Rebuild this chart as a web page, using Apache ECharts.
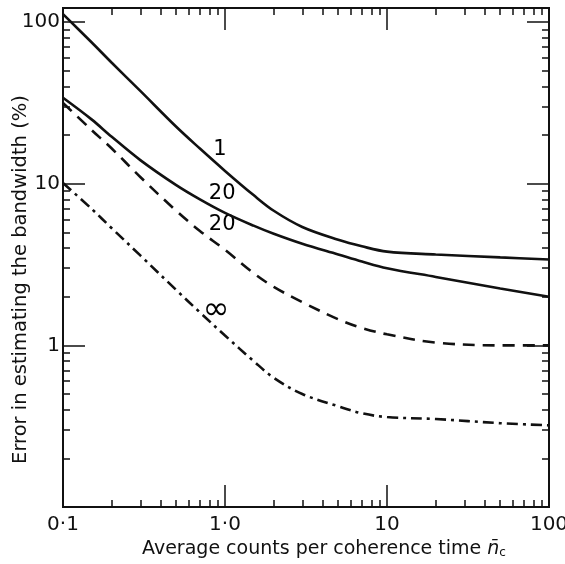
<!DOCTYPE html>
<html>
<head>
<meta charset="utf-8">
<script src="https://cdn.jsdelivr.net/npm/echarts@6/dist/echarts.min.js"></script>
<style>
  html, body { margin: 0; padding: 0; background: #fff; }
  #chart { width: 565px; height: 564px; }
</style>
</head>
<body>
<div id="chart"></div>
<script>
// counts per coherence time (x) and error in % (y)
const xs = [0.1, 0.15, 0.2, 0.3, 0.5, 0.7, 1, 1.5, 2, 3, 5, 7, 10, 20, 50, 100];
const errSolid1 = [112, 75, 56, 37.5, 22.5, 16.5, 12, 8.5, 6.8, 5.4, 4.5, 4.1, 3.8, 3.65, 3.5, 3.4];
const errSolid20 = [34, 25, 19.5, 14, 9.8, 8, 6.6, 5.5, 4.9, 4.25, 3.65, 3.3, 3.0, 2.65, 2.25, 2.0];
const errDashed20 = [31.6, 21.5, 16.5, 11, 6.8, 5.1, 3.9, 2.8, 2.3, 1.85, 1.45, 1.28, 1.17, 1.04, 1.0, 1.0];
const errInfinity = [10.1, 7, 5.3, 3.6, 2.2, 1.6, 1.15, 0.8, 0.63, 0.5, 0.42, 0.38, 0.36, 0.35, 0.33, 0.32];

const xTickValues = [0.1, 1, 10, 100];
const xTickLabels = ['0·1', '1·0', '10', '100'];
const yTickValues = [1, 10, 100];
const yTickLabels = ['1', '10', '100'];

// curve labels: [text, x, y, font size]
const curveLabels = [
    ['1', 0.93, 16.3, 21],
    ['20', 0.96, 8.75, 21],
    ['20', 0.96, 5.6, 21],
    ['∞', 0.88, 1.63, 32]
];

const lg = Math.log10;
const X_MIN = -1, X_MAX = 2;
const Y_MIN = -1, Y_MAX = 2.087;

// minor ticks 2..9 in every decade
const minorTicks = (lo, hi) => {
    const out = [];
    for (let d = lo; d < hi; d++) {
        for (let k = 2; k <= 9; k++) out.push(d + lg(k));
    }
    return out;
};
const xMajor = xTickValues.map(lg);
const yMajor = [-1, 0, 1, 2];
const xMinor = minorTicks(-1, 2);
const yMinor = minorTicks(-1, 2);

const font = '"DejaVu Sans", sans-serif';

const makeAxis = (position, isX, major, withLabels) => {
    const ax = {
        type: 'value',
        position: position,
        min: isX ? X_MIN : Y_MIN,
        max: isX ? X_MAX : Y_MAX,
        splitLine: { show: false },
        axisLine: { show: true, onZero: false, lineStyle: { color: '#111', width: 2 } },
        axisTick: {
            show: true,
            inside: true,
            length: major ? 22 : 7,
            lineStyle: { color: '#111', width: 1.5 },
            customValues: major ? (isX ? xMajor : yMajor) : (isX ? xMinor : yMinor)
        },
        axisLabel: { show: false }
    };
    if (withLabels) {
        const vals = isX ? xTickValues : yTickValues;
        const labs = isX ? xTickLabels : yTickLabels;
        ax.axisLabel = {
            show: true,
            customValues: vals.map(lg),
            formatter: (v) => {
                const i = vals.findIndex(t => Math.abs(lg(t) - v) < 1e-6);
                return i >= 0 ? labs[i] : '';
            },
            color: '#111',
            fontFamily: font,
            fontSize: 20,
            margin: isX ? 8 : 3
        };
    }
    return ax;
};

const xAxes = [
    makeAxis('bottom', true, true, true),
    makeAxis('bottom', true, false, false),
    makeAxis('top', true, true, false),
    makeAxis('top', true, false, false)
];
xAxes[0].name = 'Average counts per coherence time {n|n\u0304}{c|c}';
xAxes[0].nameLocation = 'middle';
xAxes[0].nameGap = 32;
xAxes[0].nameMoveOverlap = false;
xAxes[0].nameTextStyle = {
    color: '#111', fontFamily: font, fontSize: 19,
    padding: [0, 0, 0, 36],
    rich: {
        n: { fontFamily: font, fontSize: 19, color: '#111', fontStyle: 'italic' },
        c: { fontFamily: font, fontSize: 12, color: '#111', verticalAlign: 'bottom', padding: [8, 0, 0, 0] }
    }
};

const yAxes = [
    makeAxis('left', false, true, true),
    makeAxis('left', false, false, false),
    makeAxis('right', false, true, false),
    makeAxis('right', false, false, false)
];
yAxes[0].name = 'Error in estimating the bandwidth (%)';
yAxes[0].nameLocation = 'middle';
yAxes[0].nameRotate = 90;
yAxes[0].nameGap = 32;
yAxes[0].nameMoveOverlap = false;
yAxes[0].nameTextStyle = { color: '#111', fontFamily: font, fontSize: 19.5, padding: [0, 44, 0, 0] };

const toData = (ys) => xs.map((x, i) => [lg(x), lg(ys[i])]);

const lineSeries = (ys, type, dash) => ({
    type: 'line',
    data: toData(ys),
    smooth: 0.35,
    showSymbol: false,
    symbol: 'none',
    lineStyle: { color: '#111', width: 2.6, type: dash || type },
    silent: true
});

const series = [
    lineSeries(errSolid1, 'solid'),
    lineSeries(errSolid20, 'solid'),
    lineSeries(errDashed20, 'dashed', [12, 8]),
    lineSeries(errInfinity, 'dashed', [11, 5, 3, 5]),
    {
        type: 'scatter',
        symbolSize: 0,
        silent: true,
        itemStyle: { opacity: 1 },
        data: curveLabels.map(c => ({
            value: [lg(c[1]), lg(c[2])],
            name: c[0],
            label: { fontSize: c[3] }
        })),
        label: {
            show: true,
            position: 'inside',
            formatter: (p) => p.name,
            color: '#000',
            opacity: 1,
            fontFamily: font,
            fontSize: 21
        }
    }
];

const myChart = echarts.init(document.getElementById('chart'));
const option = {
    backgroundColor: '#fff',
    animation: false,
    grid: { left: 63, right: 16, top: 8, bottom: 57, outerBoundsMode: 'none' },
    xAxis: xAxes,
    yAxis: yAxes,
    series: series
};
myChart.setOption(option);
window.addEventListener('resize', function () {
    myChart.resize();
});
</script>
</body>
</html>
